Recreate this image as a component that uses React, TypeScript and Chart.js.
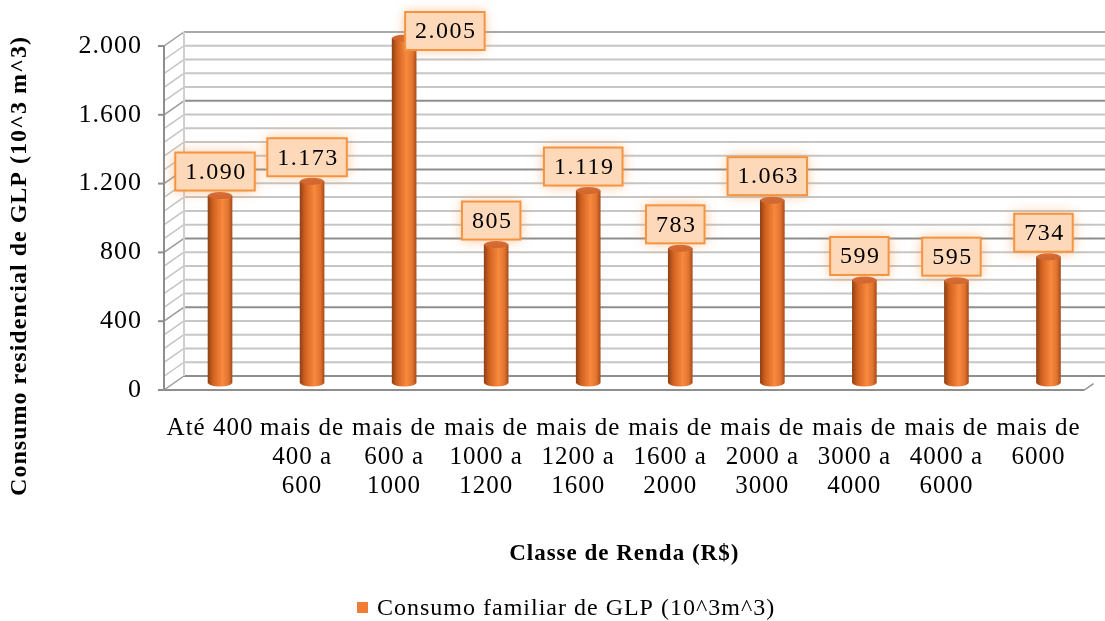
import { useEffect, useRef } from 'react';
import { Chart, registerables } from 'chart.js';

Chart.register(...registerables);

// Income classes (R$) shown on the category axis, one array entry per line
const categories: string[][] = [
  ['Até 400'],
  ['mais de', '400 a', '600'],
  ['mais de', '600 a', '1000'],
  ['mais de', '1000 a', '1200'],
  ['mais de', '1200 a', '1600'],
  ['mais de', '1600 a', '2000'],
  ['mais de', '2000 a', '3000'],
  ['mais de', '3000 a', '4000'],
  ['mais de', '4000 a', '6000'],
  ['mais de', '6000'],
];

// Household LPG consumption per income class (10^3 m^3)
const consumo = [1090, 1173, 2005, 805, 1119, 783, 1063, 599, 595, 734];

const seriesName = 'Consumo familiar de GLP (10^3m^3)';
const xTitle = 'Classe de Renda (R$)';
const yTitle = 'Consumo residencial de GLP (10^3 m^3)';

const Y_MIN = 0;
const Y_MAX = 2000;
const Y_STEP = 400;
const Y_MINOR = 80;

const SERIF = '"Liberation Serif", "Times New Roman", serif';
const ORANGE = '#ef7d36';

// depth of the pseudo-3D box (back wall offset from the front plane)
const DX = 20;
const DY = -14;
const BAR_W = 24;

const fmt = (v: number) => String(Math.round(v)).replace(/\B(?=(\d{3})+(?!\d))/g, '.');

function line(ctx: CanvasRenderingContext2D, x1: number, y1: number, x2: number, y2: number) {
  ctx.beginPath();
  ctx.moveTo(x1, y1);
  ctx.lineTo(x2, y2);
  ctx.stroke();
}

function cylinderFill(ctx: CanvasRenderingContext2D, x: number) {
  const g = ctx.createLinearGradient(x - BAR_W / 2, 0, x + BAR_W / 2, 0);
  g.addColorStop(0, '#8f4216');
  g.addColorStop(0.2, '#d0601f');
  g.addColorStop(0.6, '#f8893e');
  g.addColorStop(0.85, '#e0732f');
  g.addColorStop(1, '#a94c1b');
  return g;
}

const cylinderPlugin = {
  id: 'cylinder3d',
  beforeUpdate(chart: any) {
    chart.ctx.letterSpacing = '1px';
  },
  beforeDraw(chart: any) {
    const ctx = chart.ctx as CanvasRenderingContext2D;
    (ctx as any).letterSpacing = '1px';
    ctx.save();
    ctx.fillStyle = '#ffffff';
    ctx.fillRect(0, 0, chart.width, chart.height);
    ctx.restore();
  },
  beforeDatasetsDraw(chart: any) {
    const ctx = chart.ctx as CanvasRenderingContext2D;
    const a = chart.chartArea;
    const y = chart.scales.y;
    const yTop = y.getPixelForValue(Y_MAX);
    const yBot = y.getPixelForValue(Y_MIN);
    ctx.save();
    ctx.lineCap = 'butt';

    // back wall and side wall grid
    for (let v = Y_MIN; v <= Y_MAX; v += Y_MINOR) {
      const fy = y.getPixelForValue(v);
      const by = fy + DY;
      const major = v % Y_STEP === 0;
      ctx.lineWidth = 2;
      ctx.strokeStyle = v === Y_MAX ? '#a9a9a9' : major ? '#8e8e8e' : '#c6c6c6';
      line(ctx, a.left + DX, by, chart.width, by);
      ctx.lineWidth = 1.5;
      ctx.strokeStyle = major ? '#9a9a9a' : '#c4c4c4';
      line(ctx, a.left, fy, a.left + DX, by);
    }
    // back edge of the side wall
    ctx.lineWidth = 2;
    ctx.strokeStyle = '#cfcfcf';
    line(ctx, a.left + DX, yTop + DY, a.left + DX, yBot + DY);
    // front vertical axis
    ctx.strokeStyle = '#8e8e8e';
    line(ctx, a.left, yTop, a.left, yBot);
    // major tick marks
    for (let v = Y_MIN; v <= Y_MAX; v += Y_STEP) {
      const fy = y.getPixelForValue(v);
      line(ctx, a.left - 6, fy, a.left, fy);
    }
    // floor front edge and right corner
    line(ctx, a.left - 6, yBot, a.right, yBot);
    ctx.lineWidth = 1.5;
    line(ctx, a.right, yBot, a.right + DX * 0.45, yBot + DY * 0.45);
    ctx.restore();

    // bars stand halfway into the box
    ctx.save();
    ctx.translate(DX / 2, DY / 2);
  },
  afterDatasetsDraw(chart: any) {
    const ctx = chart.ctx as CanvasRenderingContext2D;
    const meta = chart.getDatasetMeta(0);
    // cylinder caps (still in the translated mid-depth plane)
    meta.data.forEach((el: any) => {
      if (!Number.isFinite(el.x) || !Number.isFinite(el.y)) return;
      ctx.fillStyle = cylinderFill(ctx, el.x);
      ctx.beginPath();
      ctx.ellipse(el.x, el.base, BAR_W / 2, 3.5, 0, 0, Math.PI);
      ctx.fill();
      ctx.fillStyle = '#cf6430';
      ctx.beginPath();
      ctx.ellipse(el.x, el.y, BAR_W / 2, 3.5, 0, 0, Math.PI * 2);
      ctx.fill();
    });
    ctx.restore();

    // value labels in peach boxes
    ctx.save();
    (ctx as any).letterSpacing = '1.5px';
    ctx.font = `24px ${SERIF}`;
    ctx.textAlign = 'center';
    ctx.textBaseline = 'middle';
    const data = chart.data.datasets[0].data as number[];
    meta.data.forEach((el: any, i: number) => {
      if (!Number.isFinite(el.x) || !Number.isFinite(el.y)) return;
      const text = fmt(data[i]);
      const w = ctx.measureText(text).width + 18;
      const h = 38;
      let left = el.x + 5 - w / 2;
      let top = el.y - 12 - h;
      if (top < 10) {
        top = 12;
        left = el.x + 11;
      }
      ctx.save();
      ctx.shadowColor = 'rgba(247, 150, 70, 0.6)';
      ctx.shadowBlur = 12;
      ctx.fillStyle = '#fdd9b9';
      ctx.fillRect(left, top, w, h);
      ctx.restore();
      ctx.lineWidth = 2;
      ctx.strokeStyle = '#f59440';
      ctx.strokeRect(left, top, w, h);
      ctx.fillStyle = '#000000';
      ctx.fillText(text, left + w / 2 + 1, top + h / 2 + 1);
    });
    ctx.restore();
  },
  afterDraw(chart: any) {
    const ctx = chart.ctx as CanvasRenderingContext2D;
    ctx.save();
    (ctx as any).letterSpacing = '1px';
    // vertical axis title
    ctx.translate(20, 266);
    ctx.rotate(-Math.PI / 2);
    ctx.font = `bold 24px ${SERIF}`;
    ctx.fillStyle = '#000000';
    ctx.textAlign = 'center';
    ctx.textBaseline = 'middle';
    ctx.fillText(yTitle, 0, 0);
    ctx.restore();

    // legend
    ctx.save();
    (ctx as any).letterSpacing = '1px';
    ctx.fillStyle = ORANGE;
    ctx.fillRect(357, 602, 11, 11);
    ctx.font = `24px ${SERIF}`;
    ctx.fillStyle = '#000000';
    ctx.textAlign = 'left';
    ctx.textBaseline = 'middle';
    ctx.fillText(seriesName, 377, 609);
    ctx.restore();
  },
};

export default function App() {
  const ref = useRef<HTMLCanvasElement | null>(null);

  useEffect(() => {
    document.body.style.margin = '0';
    const canvas = ref.current;
    if (!canvas) return;
    const chart = new Chart(canvas, {
      type: 'bar',
      data: {
        labels: categories,
        datasets: [
          {
            label: seriesName,
            data: consumo,
            barThickness: BAR_W,
            clip: false,
            borderWidth: 0,
            backgroundColor: (c: any) => {
              const xs = c.chart.scales?.x;
              if (!xs || c.dataIndex === undefined) return ORANGE;
              const x = xs.getPixelForValue(c.dataIndex);
              if (!Number.isFinite(x)) return ORANGE;
              return cylinderFill(c.chart.ctx, x);
            },
          } as any,
        ],
      },
      options: {
        animation: false,
        responsive: false,
        layout: { padding: { top: 46, right: 10, bottom: 46, left: 0 } },
        plugins: {
          legend: { display: false },
          tooltip: { enabled: false },
        },
        scales: {
          x: {
            grid: { display: false, drawTicks: false },
            border: { display: false },
            ticks: {
              autoSkip: false,
              maxRotation: 0,
              minRotation: 0,
              padding: 24,
              color: '#000000',
              font: { family: SERIF, size: 25, lineHeight: 1.16 },
            },
            title: {
              display: true,
              text: xTitle,
              color: '#000000',
              font: { family: SERIF, size: 23, weight: 'bold' },
              padding: { top: 0, bottom: 7 },
            },
            afterFit: (s: any) => {
              s.height = 185;
            },
          },
          y: {
            min: Y_MIN,
            max: Y_MAX,
            grid: { display: false, drawTicks: false },
            border: { display: false },
            ticks: {
              stepSize: Y_STEP,
              padding: 22,
              color: '#000000',
              font: { family: SERIF, size: 26 },
              callback: (v: any) => fmt(Number(v)),
            },
            afterFit: (s: any) => {
              s.width = 164;
            },
          },
        },
      } as any,
      plugins: [cylinderPlugin],
    });
    return () => chart.destroy();
  }, []);

  return (
    <div style={{ width: 1105, height: 621 }}>
      <canvas ref={ref} width={1105} height={621} style={{ display: 'block' }} />
    </div>
  );
}
